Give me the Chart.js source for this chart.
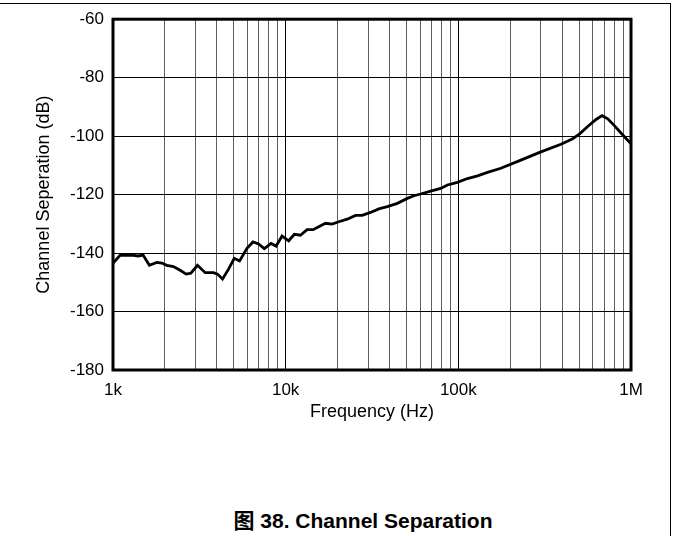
<!DOCTYPE html>
<html>
<head>
<meta charset="utf-8">
<script src="https://cdn.jsdelivr.net/npm/chart.js@4"></script>
<style>
  body { margin: 0; background: #fff; }
  #page { position: relative; width: 674px; height: 536px; overflow: hidden; }
  #frame { position: absolute; left: 0; top: 3px; width: 670px; height: 540px; border-top: 1px solid #000; border-right: 1px solid #000; }
  #separationChart { position: absolute; left: 0; top: 0; }
  #caption { position: absolute; left: 0; width: 726px; top: 504px; text-align: center;
    font: bold 21px "Liberation Sans", Arial, "Noto Sans CJK SC", sans-serif; color: #000; }
</style>
</head>
<body>
<div id="page">
  <div id="frame"></div>
  <canvas id="separationChart" width="674" height="440"></canvas>
  <div id="caption">图 38. Channel Separation</div>
</div>
<script>
// values (frequency in Hz, separation in dB)
const freqHz = [1000, 1027, 1098, 1284, 1397, 1494, 1624, 1793, 1918, 2050, 2239, 2448, 2653, 2825,
  3086, 3420, 3820, 4030, 4309, 4669, 5039, 5408, 5970, 6469, 6972, 7521, 8228, 8799, 9530,
  10410, 11230, 12170, 13310, 14420, 15540, 17000, 18590, 20300, 22720, 25380, 27760, 31000,
  34660, 38780, 44330, 50660, 55340, 60510, 69150, 79060, 86440, 98810, 112900, 129100,
  147500, 176300, 230200, 300800, 392900, 459400, 501900, 561600, 627400, 679700, 733500,
  801200, 896700, 1000000];
const sepDb = [-143.5, -142.7, -140.8, -140.7, -141.0, -140.7, -144.2, -143.2, -143.4, -144.2, -144.6, -145.9, -147.2, -146.9,
  -144.2, -146.7, -146.7, -147.2, -148.9, -145.5, -141.8, -142.7, -138.4, -136.2, -136.9, -138.5, -136.7, -137.6, -134.2,
  -135.8, -133.6, -133.9, -132.0, -132.0, -131.0, -129.8, -130.1, -129.3, -128.4, -127.1, -127.1, -126.1,
  -124.9, -124.1, -123.0, -121.3, -120.4, -119.8, -118.8, -117.9, -116.7, -115.8, -114.5, -113.6,
  -112.4, -111.0, -108.2, -105.4, -102.8, -100.9, -99.3, -96.7, -94.3, -93.0, -94.1,
  -96.4, -99.6, -102.6];

// grid positions and labels
const freqGrid = [1000, 2000, 3000, 4000, 5000, 6000, 7000, 8000, 9000,
  10000, 20000, 30000, 40000, 50000, 60000, 70000, 80000, 90000,
  100000, 200000, 300000, 400000, 500000, 600000, 700000, 800000, 900000, 1000000];
const freqLabels = { 1000: "1k", 10000: "10k", 100000: "100k", 1000000: "1M" };
const DB_MIN = -180;
const DB_MAX = -60;
const DB_STEP = 20;

const FONT = "'Liberation Sans', Arial, sans-serif";

function isDecade(v){
  return freqLabels[v] !== undefined;
}

// thick box round the plot area
const plotBox = {
  id: "plotBox",
  afterDraw(chart){
    const a = chart.chartArea;
    const ctx = chart.ctx;
    ctx.save();
    ctx.strokeStyle = "#000";
    ctx.lineWidth = 3;
    ctx.strokeRect(a.left, a.top, a.right - a.left, a.bottom - a.top);
    ctx.restore();
  }
};

const points = freqHz.map((f, i) => ({ x: f, y: sepDb[i] }));

const ctx = document.getElementById("separationChart").getContext("2d");
new Chart(ctx, {
  type: "line",
  data: {
    datasets: [{
      data: points,
      borderColor: "#000",
      borderWidth: 2.8,
      pointRadius: 0,
      tension: 0,
      fill: false
    }]
  },
  options: {
    responsive: false,
    animation: false,
    layout: { padding: { left: 0, top: 16, right: 43, bottom: 0 } },
    plugins: { legend: { display: false }, tooltip: { enabled: false } },
    scales: {
      x: {
        type: "logarithmic",
        min: 1000,
        max: 1000000,
        afterBuildTicks: scale => { scale.ticks = freqGrid.map(v => ({ value: v })); },
        afterFit: scale => { scale.height = 70; },
        grid: {
          drawTicks: false,
          color: c => (c.tick && isDecade(c.tick.value)) ? "#000" : "#606060",
          lineWidth: 1
        },
        border: { display: false },
        ticks: {
          autoSkip: false,
          maxRotation: 0,
          padding: 10,
          color: "#000",
          font: { family: FONT, size: 17 },
          callback: value => freqLabels[value] || ""
        },
        title: {
          display: true,
          text: "Frequency (Hz)",
          color: "#000",
          font: { family: FONT, size: 18 },
          padding: { top: 0, bottom: 17 }
        }
      },
      y: {
        min: DB_MIN,
        max: DB_MAX,
        afterFit: scale => { scale.width = 113; },
        grid: { drawTicks: false, color: "#000", lineWidth: 1 },
        border: { display: false },
        ticks: {
          stepSize: DB_STEP,
          padding: 9,
          color: "#000",
          font: { family: FONT, size: 17 }
        },
        title: {
          display: true,
          text: "Channel Seperation (dB)",
          color: "#000",
          font: { family: FONT, size: 18 },
          padding: { top: 33, bottom: 0 }
        }
      }
    }
  },
  plugins: [plotBox]
});
</script>
</body>
</html>
